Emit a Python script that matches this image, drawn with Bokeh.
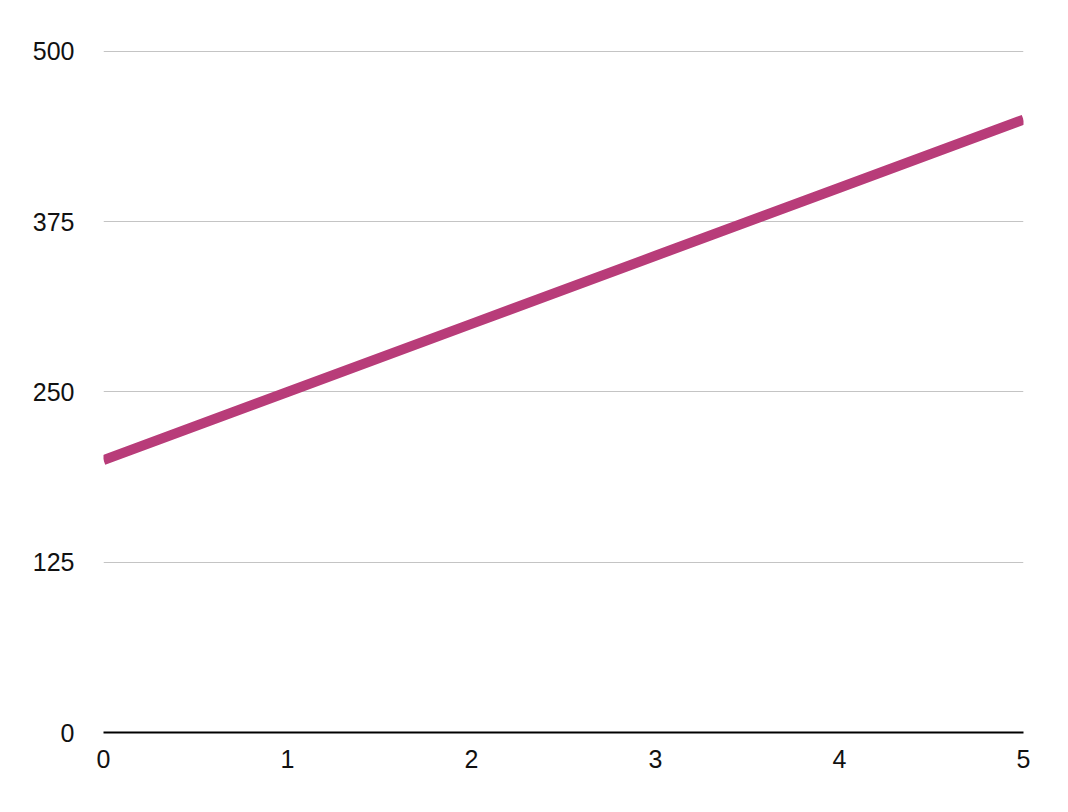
from bokeh.plotting import figure
from bokeh.models import FixedTicker, Range1d
from bokeh.embed import file_html
from bokeh.resources import INLINE

x_values = [0, 1, 2, 3, 4, 5]
y_values = [200, 250, 300, 350, 400, 450]
y_ticks = [0, 125, 250, 375, 500]
x_ticks = [0, 1, 2, 3, 4, 5]

p = figure(width=1052, height=796, output_backend="svg", toolbar_location=None,
           x_range=Range1d(0, 5), y_range=Range1d(0, 500.73),
           min_border_left=103, min_border_right=29, min_border_top=50, min_border_bottom=64)
p.outline_line_color = None
p.background_fill_color = "white"
p.border_fill_color = "white"

p.line(x_values, y_values, line_color="#b83c79", line_width=10, line_cap="butt")

font = "Liberation Sans"
# y axis
p.yaxis.ticker = FixedTicker(ticks=y_ticks)
p.yaxis.axis_line_color = None
p.yaxis.major_tick_line_color = None
p.yaxis.minor_tick_line_color = None
p.yaxis.major_tick_in = 0
p.yaxis.major_tick_out = 0
p.yaxis.major_label_standoff = 29
p.yaxis.major_label_text_font = font
p.yaxis.major_label_text_font_size = "25px"
p.yaxis.major_label_text_color = "#111111"

# x axis
p.xaxis.ticker = FixedTicker(ticks=x_ticks)
p.xaxis.axis_line_color = "black"
p.xaxis.axis_line_width = 2
p.xaxis.major_tick_line_color = None
p.xaxis.minor_tick_line_color = None
p.xaxis.major_tick_in = 0
p.xaxis.major_tick_out = 0
p.xaxis.major_label_standoff = 17
p.xaxis.major_label_text_font = font
p.xaxis.major_label_text_font_size = "25px"
p.xaxis.major_label_text_color = "#111111"

p.xgrid.grid_line_color = None
p.ygrid.ticker = FixedTicker(ticks=y_ticks)
p.ygrid.grid_line_color = "#c4c4c4"
p.ygrid.grid_line_width = 1

open("out.html", "w").write(file_html(p, INLINE))
